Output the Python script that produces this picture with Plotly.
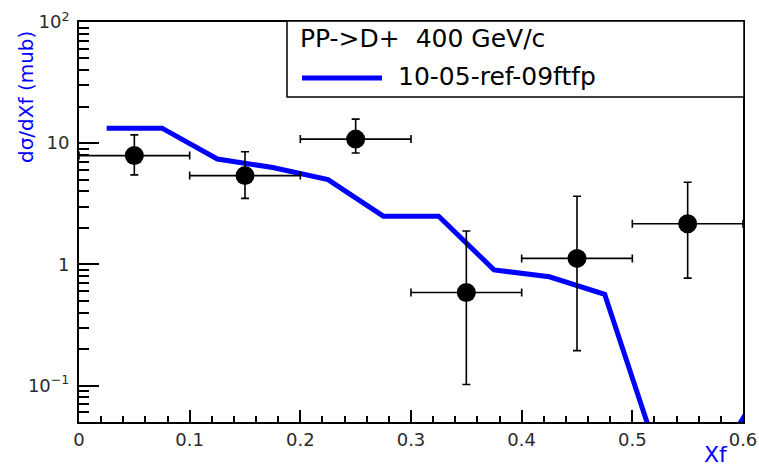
import plotly.graph_objects as go

# ---- data ----
data_x = [0.05, 0.15, 0.25, 0.35, 0.45, 0.55]
data_xerr = [0.05, 0.05, 0.05, 0.05, 0.05, 0.05]
data_y = [7.9, 5.4, 10.8, 0.585, 1.12, 2.16]
data_err_plus = [3.8, 3.1, 5.0, 1.3, 2.53, 2.6]
data_err_minus = [2.43, 1.9, 2.5, 0.483, 0.926, 1.39]

model_x = [0.025, 0.075, 0.125, 0.175, 0.225, 0.275, 0.325, 0.375, 0.425, 0.475, 0.525, 0.575, 0.625]
model_y = [13.3, 13.3, 7.4, 6.3, 5.0, 2.5, 2.5, 0.90, 0.79, 0.566, 0.0236, 0.0226, 0.127]

y_tickvals = [0.1, 1, 10, 100]
y_ticktext = ["10<sup>\u22121</sup>", "1", "10", "10<sup>2</sup>"]
y_minor = [m * 10 ** k for k in (-2, -1, 0, 1) for m in range(2, 10) if 0.05 <= m * 10 ** k <= 100]

legend_title = "PP->D+  400 GeV/c"
legend_entry = "10-05-ref-09ftfp"
x_title = "Xf"
y_title = "d\u03c3/dXf (mub)"

FONT = "DejaVu Sans, sans-serif"
BLUE = "rgb(0,0,255)"
TICKCOL = "#2a2a2a"

# plot area in pixels
L, R, T, B = 79, 743, 22, 422
W, H = 759, 466
def px(x):
    return (x - L) / (R - L)
def py(y):
    return (B - y) / (B - T)

fig = go.Figure()
fig.add_trace(go.Scatter(
    x=model_x, y=model_y, mode="lines",
    line=dict(color=BLUE, width=5), showlegend=False,
))
fig.add_trace(go.Scatter(
    x=data_x, y=data_y, mode="markers",
    marker=dict(color="black", size=19, symbol="circle"),
    error_x=dict(type="data", array=data_xerr, color="black", thickness=1.6, width=4),
    error_y=dict(type="data", symmetric=False, array=data_err_plus,
                 arrayminus=data_err_minus, color="black", thickness=1.6, width=4),
    showlegend=False,
))

fig.update_layout(
    template="none",
    width=W, height=H,
    margin=dict(l=L, r=W - R, t=T, b=H - B, pad=0, autoexpand=False),
    paper_bgcolor="white", plot_bgcolor="white",
    showlegend=False,
    font=dict(family=FONT, color=TICKCOL, size=18),
    xaxis=dict(
        range=[0, 0.6], showgrid=False, zeroline=False, automargin=False,
        showline=True, linecolor="black", linewidth=2, mirror=True,
        ticks="inside", ticklen=12, tickwidth=1.5, tickcolor="black",
        tickmode="linear", tick0=0, dtick=0.1,
        tickfont=dict(family=FONT, size=18, color=TICKCOL),
        minor=dict(ticks="inside", ticklen=6, tickwidth=1.5, tickcolor="black", dtick=0.02, tick0=0,
                   showgrid=False),
    ),
    yaxis=dict(
        type="log", range=[-1.30103, 2], showgrid=False, zeroline=False, automargin=False,
        showline=True, linecolor="black", linewidth=2, mirror=True,
        ticks="inside", ticklen=20, tickwidth=1.5, tickcolor="black",
        tickmode="array", tickvals=y_tickvals, ticktext=y_ticktext,
        tickfont=dict(family=FONT, size=18, color=TICKCOL),
        ticklabelstandoff=4,
        minor=dict(ticks="inside", ticklen=10, tickwidth=1.5, tickcolor="black",
                   tickmode="array", tickvals=y_minor, showgrid=False),
    ),
)

# legend box
fig.add_shape(type="rect", xref="paper", yref="paper",
              x0=px(287), x1=px(744), y0=py(97), y1=py(21),
              line=dict(color="black", width=1.5), fillcolor="white", layer="above")
fig.add_shape(type="line", xref="paper", yref="paper",
              x0=px(302), x1=px(382), y0=py(78), y1=py(78),
              line=dict(color=BLUE, width=5), layer="above")
fig.add_annotation(xref="paper", yref="paper", x=px(298), y=py(38),
                   xanchor="left", yanchor="middle", showarrow=False,
                   text=legend_title, font=dict(family=FONT, size=25, color="black"))
fig.add_annotation(xref="paper", yref="paper", x=px(396), y=py(77),
                   xanchor="left", yanchor="middle", showarrow=False,
                   text=legend_entry, font=dict(family=FONT, size=25, color="black"))

# axis titles
fig.add_annotation(xref="paper", yref="paper", x=px(730), y=py(454),
                   xanchor="right", yanchor="middle", showarrow=False,
                   text=x_title, font=dict(family=FONT, size=22, color=BLUE))
fig.add_annotation(xref="paper", yref="paper", x=px(26), y=py(29),
                   xanchor="center", yanchor="top", showarrow=False, textangle=-90,
                   text=y_title, font=dict(family=FONT, size=20, color=BLUE))

fig.write_html("out.html")
